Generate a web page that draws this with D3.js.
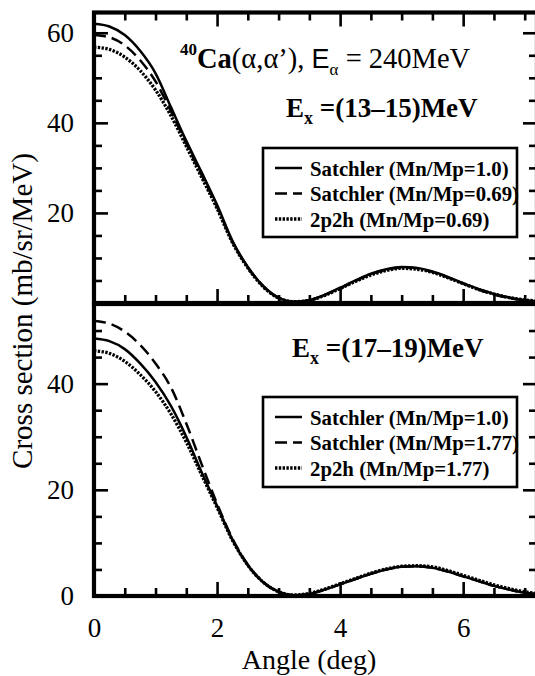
<!DOCTYPE html>
<html>
<head>
<meta charset="utf-8">
<script src="https://cdn.jsdelivr.net/npm/d3@7"></script>
<style>
  html, body { margin: 0; padding: 0; background: #fff; }
  svg { display: block; }
  text { fill: #000; }
</style>
</head>
<body>
<div id="chart"></div>
<script>
// ---------------- DATA ----------------
const angles = [0, 0.25, 0.5, 0.75, 1.0, 1.25, 1.5, 1.75, 2.0, 2.25, 2.5, 2.75, 3.0, 3.25, 3.5,
                3.75, 4.0, 4.25, 4.5, 4.75, 5.0, 5.25, 5.5, 5.75, 6.0, 6.25, 6.5, 6.75, 7.0, 7.2];

// Top panel: Ex = (13-15) MeV
const topSatchler10  = [62.0, 61.4, 59.5, 56.0, 51.0, 43.5, 36.0, 29.0, 21.8, 13.8, 8.0, 3.8, 1.2, 0.3, 0.6,
                        1.8, 3.4, 5.0, 6.5, 7.5, 8.0, 7.8, 7.0, 5.8, 4.4, 3.1, 2.0, 1.2, 0.6, 0.35];
const topSatchler069 = [59.5, 59.0, 57.2, 53.9, 49.2, 42.6, 35.4, 28.4, 21.4, 13.6, 7.9, 3.7, 1.1, 0.3, 0.6,
                        1.8, 3.3, 4.9, 6.4, 7.4, 7.9, 7.7, 6.9, 5.7, 4.3, 3.0, 1.9, 1.1, 0.6, 0.35];
const top2p2h069     = [56.8, 56.3, 54.6, 51.6, 47.3, 41.6, 34.8, 27.9, 21.0, 13.4, 7.8, 3.6, 1.1, 0.3, 0.6,
                        1.7, 3.2, 4.8, 6.2, 7.2, 7.7, 7.5, 6.8, 5.6, 4.3, 3.0, 2.0, 1.2, 0.7, 0.4];

// Bottom panel: Ex = (17-19) MeV
const botSatchler10  = [48.5, 48.0, 46.5, 43.8, 40.3, 35.8, 30.0, 23.3, 17.0, 10.6, 5.8, 2.6, 0.8, 0.15, 0.4,
                        1.2, 2.2, 3.2, 4.2, 5.0, 5.5, 5.6, 5.3, 4.6, 3.7, 2.8, 1.9, 1.2, 0.6, 0.35];
const botSatchler177 = [51.8, 51.3, 49.8, 47.3, 43.8, 39.3, 32.5, 24.8, 17.4, 10.8, 5.9, 2.6, 0.8, 0.15, 0.4,
                        1.2, 2.2, 3.2, 4.2, 5.0, 5.5, 5.6, 5.3, 4.6, 3.7, 2.8, 1.9, 1.2, 0.6, 0.35];
const bot2p2h177     = [46.2, 45.7, 44.2, 41.7, 38.5, 34.3, 29.0, 22.8, 16.7, 10.5, 5.8, 2.6, 0.8, 0.2, 0.5,
                        1.3, 2.3, 3.3, 4.3, 5.1, 5.6, 5.7, 5.5, 4.8, 3.9, 3.0, 2.1, 1.4, 0.8, 0.45];

const xMajorTicks = [0, 2, 4, 6];
const xMinorTicks = [0.5, 1, 1.5, 2.5, 3, 3.5, 4.5, 5, 5.5, 6.5, 7];
const topYMajor = [20, 40, 60];
const topYMinor = [5, 10, 15, 25, 30, 35, 45, 50, 55];
const botYMajor = [0, 20, 40];
const botYMinor = [5, 10, 15, 25, 30, 35, 45, 50];

const topLegend = ["Satchler (Mn/Mp=1.0)", "Satchler (Mn/Mp=0.69)", "2p2h (Mn/Mp=0.69)"];
const botLegend = ["Satchler (Mn/Mp=1.0)", "Satchler (Mn/Mp=1.77)", "2p2h (Mn/Mp=1.77)"];
const topEx = "(13\u201315)MeV";
const botEx = "(17\u201319)MeV";
const xTitle = "Angle (deg)";
const yTitle = "Cross section (mb/sr/MeV)";

// ---------------- LAYOUT ----------------
const W = 535, H = 676;
const left = 94, right = 537;
const serif = "'Liberation Serif', 'Times New Roman', serif";
const sans = "'Liberation Sans', Arial, sans-serif";

const svg = d3.select("#chart").append("svg").attr("width", W).attr("height", H);

const x = d3.scaleLinear().domain([0, 7.2]).range([left, right]);
const yTop = d3.scaleLinear().domain([0, 64.5]).range([303, 12.5]);
const yBot = d3.scaleLinear().domain([0, 55]).range([596, 304]);

const styles = [
  { dash: null, width: 2.5 },
  { dash: "12,6", width: 2.5 },
  { dash: "2.4,1.4", width: 3.3 }
];

function drawPanel(y, series, opts) {
  const g = svg.append("g");
  const line = d3.line().x((d, i) => x(angles[i])).y(d => y(d)).curve(d3.curveMonotoneX);
  series.forEach((s, k) => {
    g.append("path").datum(s).attr("d", line)
      .attr("fill", "none").attr("stroke", "#000")
      .attr("stroke-width", styles[k].width)
      .attr("stroke-dasharray", styles[k].dash);
  });

  const y0 = y.range()[0], y1 = y.range()[1];
  const axStyle = sel => {
    sel.select(".domain").remove();
    sel.selectAll(".tick line").attr("stroke", "#000").attr("stroke-width", 2.6);
    sel.selectAll(".tick text").attr("font-family", serif).attr("font-size", 27);
  };

  // left axis
  svg.append("g").attr("transform", `translate(${left},0)`)
    .call(d3.axisLeft(y).tickValues(opts.yMajor).tickSize(-14).tickPadding(20).tickFormat(d3.format("d")))
    .call(axStyle);
  svg.append("g").attr("transform", `translate(${left},0)`)
    .call(d3.axisLeft(y).tickValues(opts.yMinor).tickSize(-8).tickFormat(""))
    .call(axStyle);
  // right axis
  svg.append("g").attr("transform", `translate(${right},0)`)
    .call(d3.axisRight(y).tickValues(opts.yMajor).tickSize(-14).tickFormat(""))
    .call(axStyle);
  svg.append("g").attr("transform", `translate(${right},0)`)
    .call(d3.axisRight(y).tickValues(opts.yMinor).tickSize(-8).tickFormat(""))
    .call(axStyle);
  // bottom axis
  svg.append("g").attr("transform", `translate(0,${y0})`)
    .call(d3.axisBottom(x).tickValues(xMajorTicks).tickSize(-14).tickPadding(22)
      .tickFormat(opts.xLabels ? d3.format("d") : ""))
    .call(axStyle);
  svg.append("g").attr("transform", `translate(0,${y0})`)
    .call(d3.axisBottom(x).tickValues(xMinorTicks).tickSize(-8).tickFormat(""))
    .call(axStyle);
  if (opts.topTicks) {
    svg.append("g").attr("transform", `translate(0,${y1})`)
      .call(d3.axisTop(x).tickValues(xMajorTicks).tickSize(-14).tickFormat(""))
      .call(axStyle);
    svg.append("g").attr("transform", `translate(0,${y1})`)
      .call(d3.axisTop(x).tickValues(xMinorTicks).tickSize(-8).tickFormat(""))
      .call(axStyle);
  }
  // frame
  svg.append("rect").attr("x", left).attr("y", y1).attr("width", right - left).attr("height", y0 - y1)
    .attr("fill", "none").attr("stroke", "#000").attr("stroke-width", 4.2);

  // legend
  const L = opts.legend;
  svg.append("rect").attr("x", L.x).attr("y", L.y).attr("width", L.w).attr("height", L.h)
    .attr("fill", "#fff").attr("stroke", "#000").attr("stroke-width", 2.6);
  L.labels.forEach((t, k) => {
    const cy = L.y + 20 + k * 25.5;
    svg.append("line").attr("x1", L.x + 12).attr("x2", L.x + 39).attr("y1", cy).attr("y2", cy)
      .attr("stroke", "#000").attr("stroke-width", styles[k].width)
      .attr("stroke-dasharray", styles[k].dash);
    svg.append("text").attr("x", L.x + 47).attr("y", cy + 7.5)
      .attr("font-family", serif).attr("font-weight", "bold").attr("font-size", 20.8)
      .text(t);
  });

  // Ex label
  const ex = svg.append("text").attr("x", opts.ex.x).attr("y", opts.ex.y)
    .attr("font-family", serif).attr("font-weight", "bold").attr("font-size", 27);
  ex.append("tspan").text("E");
  ex.append("tspan").attr("font-size", 18).attr("dy", 7).text("x");
  ex.append("tspan").attr("dy", -7).text(" =" + opts.ex.text);
}

drawPanel(yTop, [topSatchler10, topSatchler069, top2p2h069], {
  yMajor: topYMajor, yMinor: topYMinor, xLabels: false, topTicks: true,
  legend: { x: 263, y: 148, w: 254, h: 89, labels: topLegend },
  ex: { x: 286, y: 117, text: topEx }
});
drawPanel(yBot, [botSatchler10, botSatchler177, bot2p2h177], {
  yMajor: botYMajor, yMinor: botYMinor, xLabels: true, topTicks: false,
  legend: { x: 263, y: 397, w: 254, h: 90, labels: botLegend },
  ex: { x: 292, y: 357, text: botEx }
});

// Title: 40Ca(α,α'), Eα = 240MeV
const t = svg.append("text").attr("x", 180).attr("y", 68).attr("font-family", serif).attr("font-size", 28.5);
t.append("tspan").attr("font-weight", "bold").attr("font-size", 17).attr("dy", -13).text("40");
t.append("tspan").attr("font-weight", "bold").attr("dy", 13).text("Ca");
t.append("tspan").text("(\u03b1,\u03b1\u2019), ");
t.append("tspan").attr("font-family", sans).attr("font-size", 27).text("E");
t.append("tspan").attr("font-size", 17).attr("dy", 7).text("\u03b1");
t.append("tspan").attr("dy", -7).text(" = 240MeV");

// Axis titles
svg.append("text").attr("x", 309).attr("y", 669).attr("text-anchor", "middle")
  .attr("font-family", serif).attr("font-size", 28).text(xTitle);
svg.append("text").attr("transform", "translate(32,311) rotate(-90)").attr("text-anchor", "middle")
  .attr("font-family", serif).attr("font-size", 29).text(yTitle);
</script>
</body>
</html>
